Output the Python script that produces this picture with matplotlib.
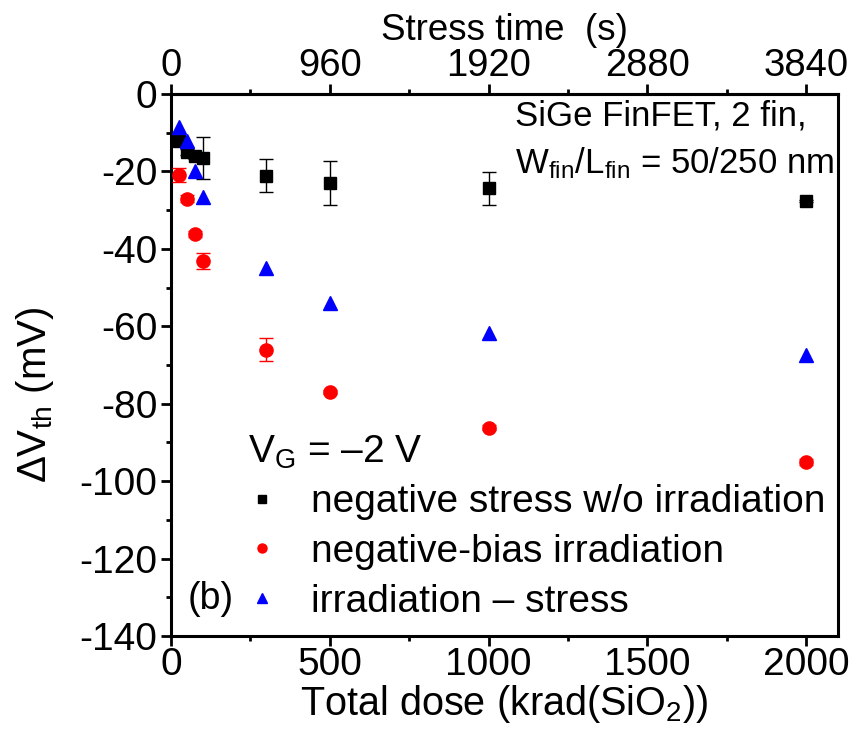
import matplotlib
matplotlib.use("Agg")
import matplotlib.pyplot as plt
from matplotlib.ticker import MultipleLocator, FixedLocator
from matplotlib.lines import Line2D

plt.rcParams['font.family'] = ['Liberation Sans', 'DejaVu Sans']
plt.rcParams['axes.unicode_minus'] = False
plt.rcParams['mathtext.fontset'] = 'custom'
plt.rcParams['mathtext.rm'] = 'Liberation Sans'
plt.rcParams['mathtext.it'] = 'Liberation Sans'

# Data
dose = [25, 50, 75, 100, 300, 500, 1000, 2000]
stress = [-12.1, -15.0, -16.0, -16.6, -21.1, -23.1, -24.4, -27.6]
stress_err = [0.8, 0.8, 0.8, 5.4, 4.2, 5.7, 4.3, 0.3]
irrad = [-20.9, -27.0, -36.1, -43.2, -66.0, -77.0, -86.2, -95.1]
irrad_err = [1.8, 0.8, 0.8, 2.0, 3.0, 0.6, 0.6, 0.8]
diff = [-8.5, -12.1, -19.9, -26.5, -45.0, -53.9, -61.8, -67.5]

xticks = [0, 500, 1000, 1500, 2000]
yticks = [0, -20, -40, -60, -80, -100, -120, -140]
top_ticks = [0, 960, 1920, 2880, 3840]
ratio = 1.92  # stress time (s) per krad

fig = plt.figure(figsize=(8.66, 7.31), dpi=100)
ax = fig.add_axes([0.1975, 0.130, 0.7702, 0.7414])

ax.errorbar(dose, stress, yerr=stress_err, fmt='s', color='black', ms=8,
            ecolor='black', elinewidth=1, capsize=5, capthick=1, zorder=3)
ax.errorbar(dose, irrad, yerr=irrad_err, fmt='o', color='red', ms=9.5,
            ecolor='red', elinewidth=1, capsize=5, capthick=1, zorder=3)
ax.plot(dose, diff, '^', color='blue', ms=10.5, linestyle='none', zorder=4)

ax.set_xlim(0, 2100)
ax.set_ylim(-140, 0)
ax.set_xticks(xticks)
ax.set_yticks(yticks)
ax.xaxis.set_minor_locator(MultipleLocator(250))
ax.yaxis.set_minor_locator(MultipleLocator(10))

for s in ax.spines.values():
    s.set_linewidth(2.2)

ax.tick_params(axis='both', which='major', direction='out', length=7, width=2,
               labelsize=28, pad=3)
ax.tick_params(axis='x', which='major', pad=1)
ax.tick_params(axis='both', which='minor', direction='out', length=3.5, width=2)
ax.tick_params(top=False, right=False)

ax.set_xlabel('Total dose (krad(SiO$_2$))', fontsize=28.5, labelpad=0)
ax.set_ylabel(r'$\Delta$V$_{\rm th}$ (mV)', fontsize=29)
ax.yaxis.set_label_coords(-0.172, 0.445)

sec = ax.secondary_xaxis('top', functions=(lambda x: x * ratio, lambda t: t / ratio))
sec.set_xticks(top_ticks)
sec.xaxis.set_minor_locator(FixedLocator([480, 1440, 2400, 3360]))
sec.tick_params(axis='x', which='major', direction='out', length=7, width=2,
                labelsize=27.5, pad=0)
sec.tick_params(axis='x', which='minor', direction='out', length=3.5, width=2)
sec.spines['top'].set_linewidth(2.2)
sec.set_xlabel('Stress time  (s)', fontsize=26.5, labelpad=6)

ax.text(0.515, 0.99, 'SiGe FinFET, 2 fin,', transform=ax.transAxes,
        fontsize=25, ha='left', va='top')
ax.text(0.515, 0.905, r'W$_{\rm fin}$/L$_{\rm fin}$ = 50/250 nm', transform=ax.transAxes,
        fontsize=25, ha='left', va='top')

handles = [
    Line2D([], [], marker='s', color='black', linestyle='none', ms=6),
    Line2D([], [], marker='o', color='red', linestyle='none', ms=6.5),
    Line2D([], [], marker='^', color='blue', linestyle='none', ms=7),
]
labels = ['negative stress w/o irradiation', 'negative-bias irradiation',
          'irradiation – stress']
leg = ax.legend(handles, labels, loc='lower left', bbox_to_anchor=(0.075, -0.02),
                frameon=False, fontsize=28, handlelength=0.7, handletextpad=0.92,
                labelspacing=0.35, borderaxespad=0.3,
                title='V$_{\\rm G}$ = –2 V', title_fontsize=28)
leg._legend_box.align = 'left'

ax.text(0.025, 0.035, '(b)', transform=ax.transAxes, fontsize=27,
        ha='left', va='bottom')

fig.savefig('out.png', dpi=100)
